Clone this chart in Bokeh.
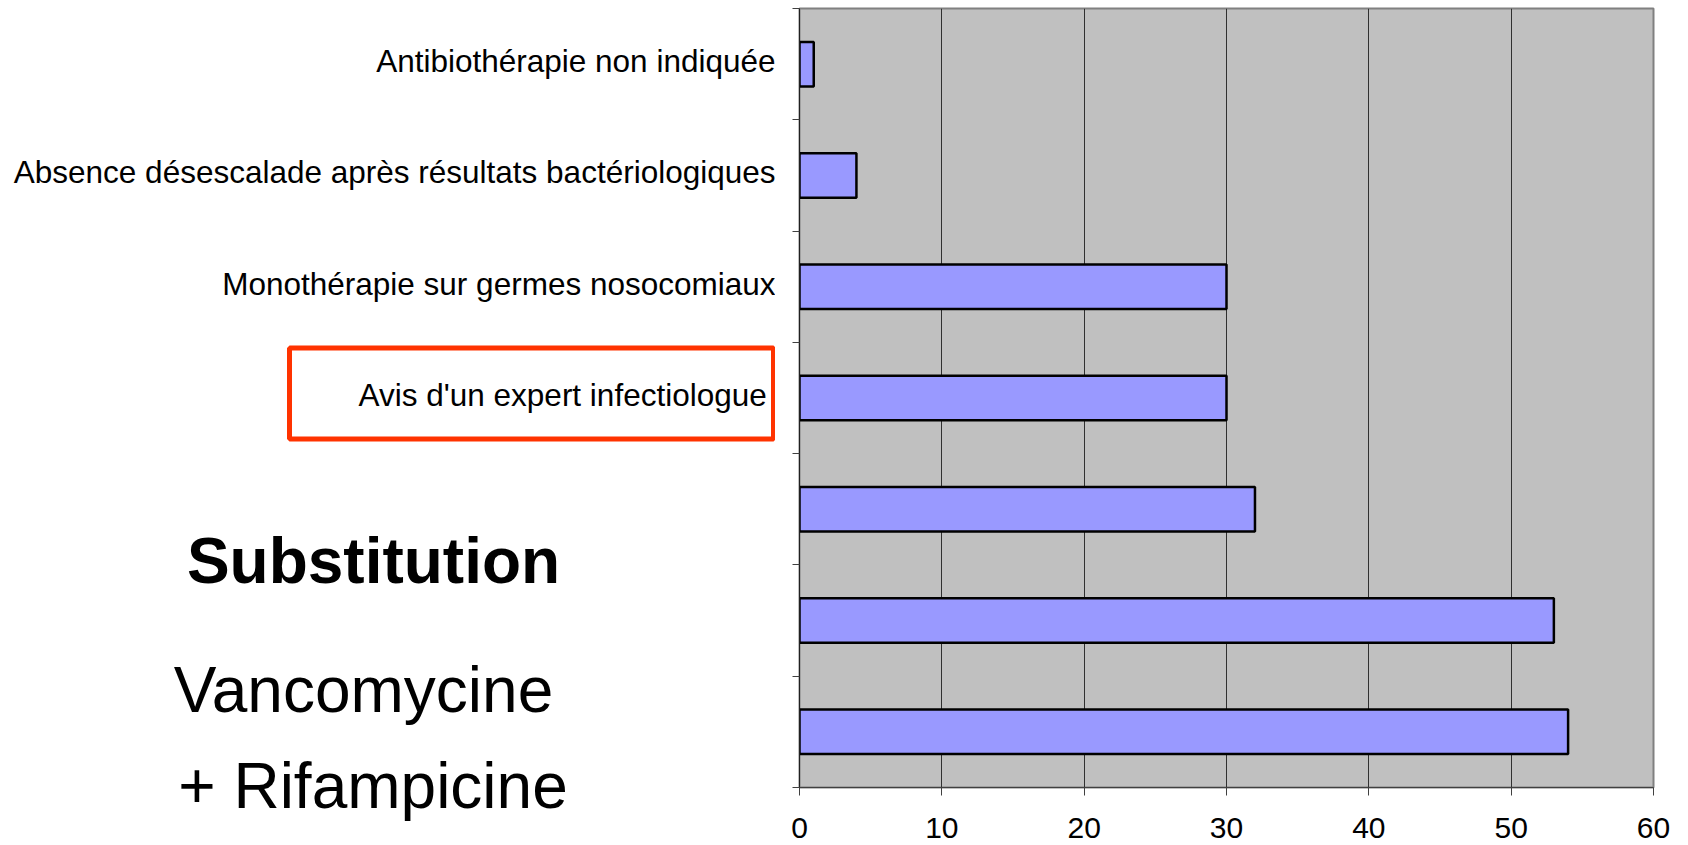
from bokeh.plotting import figure
from bokeh.layouts import row
from bokeh.models import Range1d, FixedTicker, ColumnDataSource, LinearAxis
from bokeh.core.properties import value
from bokeh.embed import file_html
from bokeh.resources import INLINE

# Data (top to bottom)
categories = [
    "Antibiothérapie non indiquée",
    "Absence désescalade après résultats bactériologiques",
    "Monothérapie sur germes nosocomiaux",
    "Avis d'un expert infectiologue\u00a0",
    "",
    "",
    "",
]
values = [1, 4, 30, 30, 32, 53, 54]
x_ticks = [0, 10, 20, 30, 40, 50, 60]
side_title = "Substitution"
side_line1 = "Vancomycine"
side_line2 = "+ Rifampicine"

n = len(categories)
centers = [i + 0.5 for i in range(n)]
bounds = list(range(n + 1))

# geometry (pixels)
W, H = 1688, 845
LEFT_W = 775
TOP, BOTTOM = 8, 58

# ---------------- main chart ----------------
src = ColumnDataSource(dict(y=centers, v=values))
p = figure(width=W - LEFT_W, height=H, output_backend="svg", toolbar_location=None,
           x_range=Range1d(0, 60), y_range=Range1d(n, 0),
           min_border_left=24, min_border_right=35, min_border_top=TOP,
           min_border_bottom=BOTTOM)
p.background_fill_color = "#C0C0C0"
p.border_fill_color = "white"
p.outline_line_color = "#808080"
p.outline_line_width = 2

p.hbar(y="y", right="v", left=0, height=0.4, source=src,
       fill_color="#9999FF", line_color="black", line_width=2.5)

p.xaxis.ticker = FixedTicker(ticks=x_ticks)
p.xaxis.major_label_text_font = "Liberation Sans"
p.xaxis.major_label_text_font_size = "30px"
p.xaxis.major_label_text_color = "black"
p.xaxis.major_tick_out = 8
p.xaxis.major_tick_in = 0
p.xaxis.minor_tick_line_color = None
p.xaxis.axis_line_color = "#404040"
p.xaxis.major_tick_line_color = "#404040"
p.xaxis.major_label_standoff = 22

p.yaxis.ticker = FixedTicker(ticks=[], minor_ticks=bounds)
p.yaxis.major_tick_line_color = None
p.yaxis.major_tick_out = 0
p.yaxis.major_label_standoff = 0
p.yaxis.minor_tick_out = 7
p.yaxis.minor_tick_in = 0
p.yaxis.minor_tick_line_color = "#404040"
p.yaxis.axis_line_color = "#202020"

p.xgrid.ticker = FixedTicker(ticks=x_ticks)
p.xgrid.grid_line_color = "#303030"
p.xgrid.grid_line_width = 1
p.ygrid.grid_line_color = None

# ---------------- left text panel (frame aligned with the chart) ----------------
q = figure(width=LEFT_W, height=H, output_backend="svg", toolbar_location=None,
           x_range=Range1d(0, LEFT_W), y_range=Range1d(n, 0),
           x_axis_type=None, y_axis_type=None,
           min_border_left=0, min_border_right=0,
           min_border_top=TOP, min_border_bottom=BOTTOM)
q.outline_line_color = None
q.background_fill_color = "white"
q.border_fill_color = "white"
q.xgrid.grid_line_color = None
q.ygrid.grid_line_color = None

# category labels (right aligned against the axis)
lab_src = ColumnDataSource(dict(x=[LEFT_W] * n, y=centers, t=categories))
q.text(x="x", y="y", text="t", source=lab_src, text_align="right",
       text_baseline="middle", y_offset=-3, text_font=value("Liberation Sans"),
       text_font_size="31.5px", text_color="black")

# red highlight box around the 4th category label
q.rect(x=(289 + 773) / 2, y=(3.051 + 3.868) / 2, width=773 - 289,
       height=3.868 - 3.051, fill_color=None, line_color="#FF3300", line_width=5)

# side annotation
q.text(x=[373], y=[4.962], text=[side_title], text_align="center",
       text_baseline="alphabetic", text_font=value("Liberation Sans"),
       text_font_size="64px", text_font_style="bold", text_color="black")
q.text(x=[363], y=[6.12], text=[side_line1], text_align="center",
       text_baseline="alphabetic", text_font=value("Liberation Sans"),
       text_font_size="64px", text_color="black")

# last line sits across the frame edge: drawn as an (invisible) axis label
ax = LinearAxis(ticker=FixedTicker(ticks=[372.5]),
                major_label_overrides={372.5: side_line2})
ax.axis_line_color = None
ax.major_tick_line_color = None
ax.minor_tick_line_color = None
ax.major_tick_out = 0
ax.major_tick_in = 0
ax.major_label_standoff = -38
ax.major_label_text_font = "Liberation Sans"
ax.major_label_text_font_size = "64px"
ax.major_label_text_color = "black"
q.add_layout(ax, "below")

layout = row(q, p, spacing=0)
open("out.html", "w").write(file_html(layout, INLINE))
